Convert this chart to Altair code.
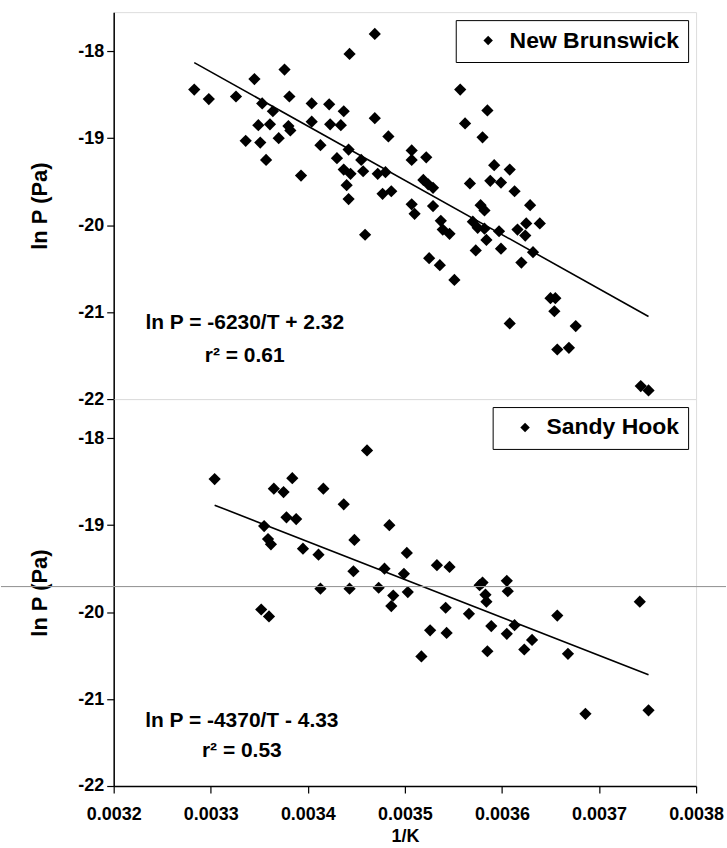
import altair as alt
import pandas as pd

# ---------------- data ----------------
nb_x = [0.003469, 0.003443, 0.003376, 0.003345, 0.003283, 0.003298, 0.003326, 0.003381,
        0.003353, 0.003364, 0.003404, 0.003422, 0.003437, 0.003469, 0.003349, 0.003361,
        0.003380, 0.003382, 0.003404, 0.003423, 0.003434, 0.003483, 0.003336, 0.003351,
        0.003370, 0.003413, 0.003442, 0.003507, 0.003507, 0.003522, 0.003357, 0.003430,
        0.003455, 0.003437, 0.003444, 0.003457, 0.003472, 0.003480, 0.003393, 0.003440,
        0.003477, 0.003486, 0.003442, 0.003519, 0.003524, 0.003529, 0.003507, 0.003529,
        0.003557, 0.003585, 0.003562, 0.003580, 0.003592, 0.003608, 0.003567, 0.003588,
        0.003599, 0.003613, 0.003578, 0.003629, 0.003510, 0.003459, 0.003582, 0.003537,
        0.003539, 0.003546, 0.003570, 0.003575, 0.003582, 0.003597, 0.003616, 0.003625,
        0.003624, 0.003639, 0.003584, 0.003573, 0.003599, 0.003632, 0.003620, 0.003525,
        0.003536, 0.003551, 0.003650, 0.003655, 0.003654, 0.003608, 0.003676, 0.003657,
        0.003669, 0.003743, 0.003751]
nb_y = [-17.80, -18.03, -18.21, -18.32, -18.44, -18.55, -18.52, -18.52,
        -18.60, -18.69, -18.60, -18.61, -18.69, -18.77, -18.85, -18.84,
        -18.86, -18.91, -18.81, -18.84, -18.85, -18.98, -19.03, -19.05,
        -19.00, -19.08, -19.13, -19.14, -19.25, -19.22, -19.25, -19.23,
        -19.25, -19.36, -19.41, -19.38, -19.41, -19.39, -19.43, -19.54,
        -19.64, -19.61, -19.70, -19.48, -19.53, -19.57, -19.76, -19.78,
        -18.44, -18.68, -18.83, -18.99, -19.31, -19.36, -19.52, -19.49,
        -19.51, -19.61, -19.77, -19.77, -19.87, -20.11, -19.83, -19.95,
        -20.05, -20.10, -19.96, -20.03, -20.04, -20.07, -20.05, -19.98,
        -20.12, -19.98, -20.17, -20.29, -20.27, -20.31, -20.43, -20.38,
        -20.46, -20.63, -20.84, -20.84, -20.99, -21.13, -21.16, -21.43,
        -21.41, -21.85, -21.90]

sh_x = [0.003461, 0.003304, 0.003384, 0.003365, 0.003375, 0.003416, 0.003437, 0.003378,
        0.003388, 0.003484, 0.003355, 0.003359, 0.003362, 0.003448, 0.003395, 0.003411,
        0.003502, 0.003533, 0.003546, 0.003447, 0.003479, 0.003499, 0.003413, 0.003443,
        0.003473, 0.003488, 0.003503, 0.003486, 0.003352, 0.003360, 0.003580, 0.003577,
        0.003605, 0.003606, 0.003583, 0.003584, 0.003742, 0.003542, 0.003566, 0.003657,
        0.003526, 0.003517, 0.003589, 0.003613, 0.003605, 0.003631, 0.003543, 0.003585,
        0.003623, 0.003668, 0.003686, 0.003751]
sh_y = [-18.14, -18.47, -18.46, -18.58, -18.62, -18.58, -18.76, -18.91,
        -18.93, -19.00, -19.01, -19.16, -19.22, -19.17, -19.27, -19.34,
        -19.32, -19.46, -19.48, -19.53, -19.50, -19.56, -19.73, -19.73,
        -19.72, -19.81, -19.77, -19.93, -19.97, -20.05, -19.66, -19.69,
        -19.64, -19.76, -19.80, -19.88, -19.88, -19.95, -20.02, -20.04,
        -20.21, -20.51, -20.16, -20.15, -20.25, -20.32, -20.24, -20.45,
        -20.43, -20.48, -21.17, -21.13]

# fitted lines as drawn (end points)
nb_fit_x = [0.003283, 0.003751]
nb_fit_y = [-18.13, -21.05]
sh_fit_x = [0.003304, 0.003751]
sh_fit_y = [-18.77, -20.72]

# annotations
nb_note_text = ["ln P = -6230/T + 2.32", "r\u00b2 = 0.61"]
nb_note_x = [0.003335, 0.003335]
nb_note_y = [-21.13, -21.50]
sh_note_text = ["ln P = -4370/T - 4.33", "r\u00b2 = 0.53"]
sh_note_x = [0.003332, 0.003332]
sh_note_y = [-21.25, -21.60]

x_ticks = [0.0032, 0.0033, 0.0034, 0.0035, 0.0036, 0.0037, 0.0038]
y_ticks = [-22, -21, -20, -19, -18]

FONT = "Liberation Sans"

xscale = alt.Scale(domain=[0.0032, 0.0038], nice=False, zero=False)
yscale = alt.Scale(domain=[-22, -17.55], nice=False, zero=False)

yaxis = alt.Axis(values=y_ticks, title="ln P (Pa)", format="d",
                 labelExpr="replace(datum.label, '\u2212', '-')",
                 titleFont=FONT, titleFontSize=22, titleFontWeight="bold",
                 titlePadding=26, titleColor="black",
                 labelFont=FONT, labelFontSize=18, labelFontWeight="bold",
                 labelColor="black", labelPadding=3, tickSize=7, grid=False,
                 domainColor="black", tickColor="black", domainWidth=1.5, tickWidth=1.2)


def panel(site, xs, ys, fx, fy, nt, nx, ny, show_x):
    df = pd.DataFrame({"x": xs, "y": ys, "site": [site] * len(xs)})
    fit = pd.DataFrame({"x": fx, "y": fy})
    notes = pd.DataFrame({"x": nx, "y": ny, "t": nt})
    if show_x:
        xaxis = alt.Axis(values=x_ticks, format=".4f", title="1/K",
                         titleFont=FONT, titleFontSize=18, titleFontWeight="bold",
                         titleColor="black", titlePadding=4,
                         labelFont=FONT, labelFontSize=18, labelFontWeight="bold",
                         labelColor="black", labelPadding=13, tickSize=7, grid=False,
                         domainColor="black", tickColor="black", domainWidth=1.5,
                         tickWidth=1.2, labelFlush=False)
    else:
        xaxis = None
    pts = alt.Chart(df).mark_point(shape="diamond", filled=True, size=150, opacity=1,
                                   strokeWidth=0).encode(
        x=alt.X("x:Q", scale=xscale, axis=xaxis),
        y=alt.Y("y:Q", scale=yscale, axis=yaxis),
        color=alt.Color("site:N", scale=alt.Scale(domain=[site], range=["black"]),
                        legend=alt.Legend(title=None, orient="top-right", offset=8,
                                          symbolType="diamond", symbolSize=90,
                                          symbolStrokeWidth=0, symbolOffset=12,
                                          labelOffset=10, labelLimit=400,
                                          labelFont=FONT, labelFontSize=23,
                                          labelFontWeight="bold", labelColor="black",
                                          strokeColor="black", fillColor="white",
                                          padding=9, cornerRadius=0)),
    )
    line = alt.Chart(fit).mark_line(color="black", strokeWidth=1.6).encode(
        x=alt.X("x:Q", scale=xscale, axis=xaxis),
        y=alt.Y("y:Q", scale=yscale, axis=yaxis),
    )
    txt = alt.Chart(notes).mark_text(font=FONT, fontSize=21, fontWeight="bold",
                                     color="black", align="center",
                                     baseline="middle").encode(
        x=alt.X("x:Q", scale=xscale, axis=xaxis),
        y=alt.Y("y:Q", scale=yscale, axis=yaxis),
        text="t:N",
    )
    layers = [line, pts, txt]
    if show_x:
        scan = alt.Chart(notes).mark_rule(color="#9a9a9a", strokeWidth=1).encode(
            x=alt.value(-113), x2=alt.value(614), y=alt.value(188))
        layers.append(scan)
    return alt.layer(*layers).properties(width=584, height=388)


top = panel("New Brunswick", nb_x, nb_y, nb_fit_x, nb_fit_y,
            nb_note_text, nb_note_x, nb_note_y, False)
bottom = panel("Sandy Hook", sh_x, sh_y, sh_fit_x, sh_fit_y,
               sh_note_text, sh_note_x, sh_note_y, True)

chart = alt.vconcat(top, bottom, spacing=0, bounds="flush").resolve_scale(
    color="independent").properties(
    padding={"left": 0, "right": 0, "top": 10, "bottom": 5}
).configure_view(stroke="black", strokeWidth=1.5).configure(background="white")

chart.save("out.html", embed_options={"renderer": "svg", "actions": False})
